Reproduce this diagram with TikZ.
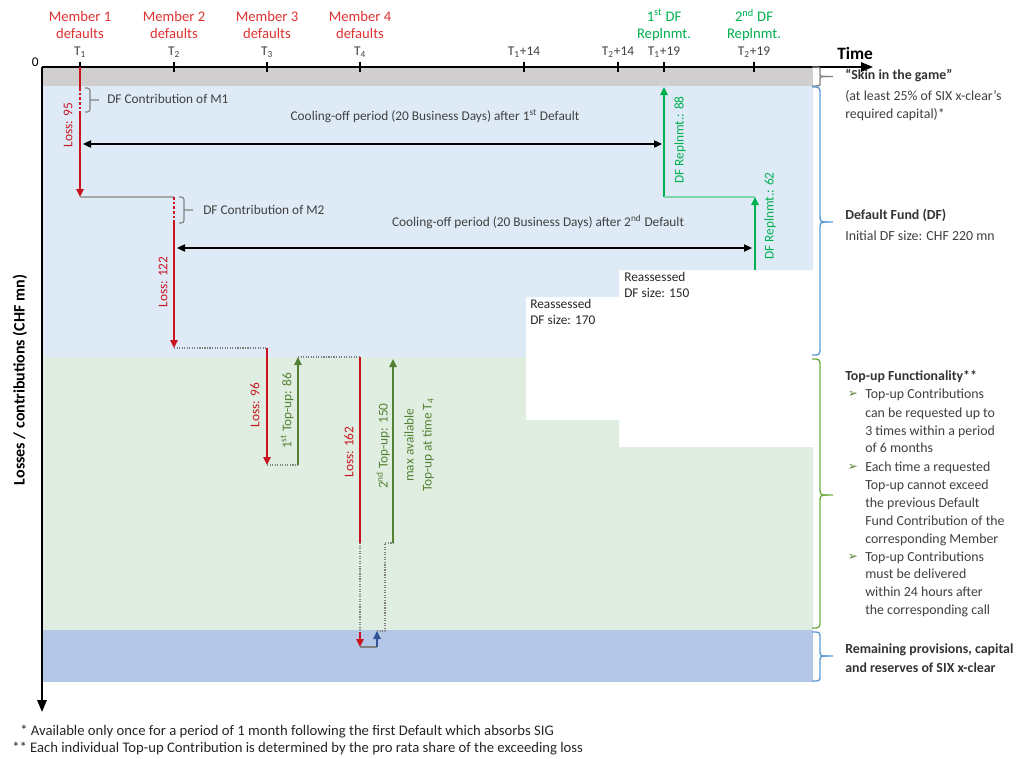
\documentclass[tikz,border=0pt]{standalone}
\usepackage{fontspec}
\setmainfont{Carlito}
\newfontfamily\symfont{DejaVu Sans}
\usetikzlibrary{arrows.meta}
\definecolor{lossred}{RGB}{200,20,30}
\definecolor{headred}{RGB}{222,50,50}
\definecolor{repgreen}{RGB}{0,176,80}
\definecolor{topgreen}{RGB}{84,130,53}
\definecolor{txtgray}{RGB}{64,64,64}
\definecolor{skinfill}{RGB}{208,206,206}
\definecolor{dffill}{RGB}{222,235,247}
\definecolor{tufill}{RGB}{224,238,226}
\definecolor{resfill}{RGB}{180,199,231}
\definecolor{bracegreen}{RGB}{112,173,71}
\definecolor{braceblue}{RGB}{91,155,213}
\definecolor{arrowblue}{RGB}{47,85,151}
\begin{document}
\begin{tikzpicture}[x=0.75pt, y=-0.75pt,
	txt/.style={font=\fontsize{10}{12}\selectfont, text=txtgray, inner sep=0pt},
	sidetxt/.style={font=\fontsize{10.4}{12}\selectfont, text=txtgray, inner sep=0pt},
	boldtxt/.style={font=\fontsize{10.4}{12}\selectfont\bfseries, text=black!80, inner sep=0pt},
	headtxt/.style={font=\fontsize{11}{12.75}\selectfont, align=center, inner sep=0pt},
	vtxt/.style={font=\fontsize{10}{13.5}\selectfont, rotate=90, inner sep=0pt},
	tip/.style={-{Triangle[length=6pt,width=5.5pt]}},
	loss/.style={lossred, line width=1.6pt},
	repl/.style={repgreen, line width=1.6pt},
	topup/.style={topgreen, line width=1.6pt},
	link/.style={gray, densely dotted, line width=0.9pt},
	cool/.style={black, line width=0.9pt, {Triangle[length=6pt,width=5.5pt]}-{Triangle[length=6pt,width=5.5pt]}}]
	\useasboundingbox (0,0) rectangle (1034,758);
	\fill[skinfill] (42,67) rectangle (813,86);
	\fill[dffill] (42,86) -- (813,86) -- (813,270) -- (619,270) -- (619,297) -- (526,297) -- (526,357) -- (42,357) -- cycle;
	\fill[tufill] (42,357) -- (526,357) -- (526,420) -- (619,420) -- (619,447) -- (813,447) -- (813,630) -- (42,630) -- cycle;
	\fill[resfill] (42,630) rectangle (813,682);
	\coordinate (O) at (42,67);
	\coordinate (tend) at (873,67);
	\coordinate (lend) at (42,712);
	\draw[line width=1.5pt, -{Triangle[length=9pt,width=7pt]}] (O) -- (tend);
	\draw[line width=1.5pt, -{Triangle[length=9pt,width=7pt]}] (O) -- (lend);
	\node[txt, text=black, anchor=east] (zero) at (39,62) {0};
	\node[font=\fontsize{13}{14}\selectfont\bfseries, anchor=west, inner sep=0pt] (time) at (837,53) {Time};
	\node[font=\fontsize{12}{14}\selectfont\bfseries, rotate=90, inner sep=0pt] (ylab) at (20,380) {Losses / contributions (CHF mn)};
	\foreach \n/\x/\t in {t1/80/T\textsubscript{1}, t2/174/T\textsubscript{2}, t3/267/T\textsubscript{3}, t4/360/T\textsubscript{4}, t5/524/T\textsubscript{1}+14, t6/618/T\textsubscript{2}+14, t7/664/T\textsubscript{1}+19, t8/754/T\textsubscript{2}+19}
	{
		\draw[line width=1.5pt] (\x,62) -- (\x,72);
		\node[txt] (\n) at (\x,52) {\t};
	}
	\foreach \i/\x in {1/80,2/174,3/267,4/360}
	\node[headtxt, text=headred] (m\i) at (\x,25) {Member \i\\defaults};
	\node[headtxt, text=repgreen] (r1) at (664,25) {1\textsuperscript{st} DF\\Replnmt.};
	\node[headtxt, text=repgreen] (r2) at (754,25) {2\textsuperscript{nd} DF\\Replnmt.};
	\coordinate (a0) at (80,67);
	\coordinate (a1) at (80,88);
	\coordinate (a2) at (80,112);
	\coordinate (a3) at (80,197);
	\coordinate (b0) at (174,197);
	\coordinate (b1) at (174,223);
	\coordinate (b2) at (174,348);
	\coordinate (c0) at (267,348);
	\coordinate (c1) at (267,465);
	\coordinate (d0) at (298,465);
	\coordinate (d1) at (298,357);
	\coordinate (e0) at (360,357);
	\coordinate (e1) at (360,543);
	\coordinate (e2) at (360,632);
	\coordinate (e3) at (360,647);
	\coordinate (f0) at (377,647);
	\coordinate (f1) at (377,631);
	\coordinate (g0) at (385,631);
	\coordinate (g1) at (385,543);
	\coordinate (g2) at (393,543);
	\coordinate (g3) at (393,359);
	\draw[loss] (a0) -- (a1);
	\draw[loss, dash pattern=on 2pt off 1.5pt] (a1) -- (a2);
	\draw[loss, tip] (a2) -- (a3);
	\draw[gray!70, line width=1pt] (a3) -- (b0);
	\draw[loss, dash pattern=on 2pt off 1.5pt] (b0) -- (b1);
	\draw[loss, tip] (b1) -- (b2);
	\draw[link] (b2) -- (c0);
	\draw[loss, tip] (c0) -- (c1);
	\draw[link] (c1) -- (d0);
	\draw[topup, tip] (d0) -- (d1);
	\draw[link] (d1) -- (e0);
	\draw[loss] (e0) -- (e1);
	\draw[link] (e1) -- (e2);
	\draw[loss, tip] (e2) -- (e3);
	\draw[gray, line width=1pt] (e3) -- (f0);
	\draw[arrowblue, line width=1.6pt, tip] (f0) -- (f1);
	\draw[link] (f1) -- (g0) -- (g1) -- (g2);
	\draw[topup, tip] (g2) -- (g3);
	\coordinate (h0) at (664,197);
	\coordinate (h1) at (664,87);
	\coordinate (k0) at (755,270);
	\coordinate (k1) at (755,197);
	\draw[repl, tip] (h0) -- (h1);
	\draw[repgreen!50, line width=1pt] (h0) -- (k1);
	\draw[repl, tip] (k0) -- (k1);
	\coordinate (cool1a) at (83,144);
	\coordinate (cool1b) at (662,144);
	\coordinate (cool2a) at (177,248);
	\coordinate (cool2b) at (752,248);
	\draw[cool] (cool1a) -- (cool1b);
	\draw[cool] (cool2a) -- (cool2b);
	\node[txt] (cool1) at (435,116) {Cooling-off period (20 Business Days) after 1\textsuperscript{st} Default};
	\node[txt] (cool2) at (538,222) {Cooling-off period (20 Business Days) after 2\textsuperscript{nd} Default};
	\draw[gray, line width=0.8pt, rounded corners=2pt] (85,88) -- (90,88) -- (90,112) -- (85,112) (90,100) -- (99,100);
	\node[txt, anchor=west] (dfm1) at (107,99) {DF Contribution of M1};
	\draw[gray, line width=0.8pt, rounded corners=2pt] (179,197) -- (184,197) -- (184,223) -- (179,223) (184,210) -- (193,210);
	\node[txt, anchor=west] (dfm2) at (203,210) {DF Contribution of M2};
	\node[vtxt, text=lossred] (l95) at (68,125) {Loss: 95};
	\node[vtxt, text=lossred] (l122) at (163,282) {Loss: 122};
	\node[vtxt, text=lossred] (l96) at (255,405) {Loss: 96};
	\node[vtxt, text=topgreen] (tu86) at (287,411) {1\textsuperscript{st} Top-up: 86};
	\node[vtxt, text=lossred] (l162) at (349,452) {Loss: 162};
	\node[vtxt, text=topgreen] (tu150) at (383,446) {2\textsuperscript{nd} Top-up: 150};
	\node[vtxt, text=topgreen, align=center] (maxtu) at (419,445) {max available\\Top-up at time T\textsubscript{4}};
	\node[vtxt, text=repgreen] (rp88) at (680,140) {DF Replnmt.: 88};
	\node[vtxt, text=repgreen] (rp62) at (770,216) {DF Replnmt.: 62};
	\node[txt, text=black!85, anchor=north west, align=left] (re170) at (530,299) {Reassessed\\DF size: 170};
	\node[txt, text=black!85, anchor=north west, align=left] (re150) at (624,272) {Reassessed\\DF size: 150};
	\foreach \c/\t/\m/\b/\r in {gray/67/76.5/86/3, braceblue/87/222/355/8, bracegreen/359/495/628/8, braceblue/632/656/681/6}
	{
		\draw[\c, line width=1pt] (812,\t) .. controls (820,\t) .. (820,\t+\r) -- (820,\m-\r) .. controls (820,\m) .. (828,\m) -- (833,\m);
		\draw[\c, line width=1pt] (812,\b) .. controls (820,\b) .. (820,\b-\r) -- (820,\m+\r) .. controls (820,\m) .. (828,\m);
	}
	\node[boldtxt, anchor=base west] (skin) at (845,79) {“Skin in the game”};
	\node[sidetxt, anchor=base west] (skin1) at (845,100) {(at least 25\% of SIX x-clear’s};
	\node[sidetxt, anchor=base west] (skin2) at (845,118) {required capital)*};
	\node[boldtxt, anchor=base west] (df) at (845,219) {Default Fund (DF)};
	\node[sidetxt, anchor=base west] (df1) at (845,240) {Initial DF size: CHF 220 mn};
	\node[boldtxt, anchor=base west] (tu) at (845,380) {Top-up Functionality**};
	\foreach \y/\t [count=\i] in {394/Top-up Contributions, 413/can be requested up to, 431/3 times within a period, 448/of 6 months, 467/Each time a requested, 485/Top-up cannot exceed, 503/the previous Default, 521/Fund Contribution of the, 539/corresponding Member, 557/Top-up Contributions, 574/must be delivered, 592/within 24 hours after, 610/the corresponding call}
	\node[sidetxt, anchor=base west] (tu\i) at (865,\y+4) {\t};
	\foreach \y [count=\i] in {394,467,557}
	\node[font=\symfont\fontsize{9}{10}\selectfont, text=topgreen, inner sep=0pt] (bul\i) at (853,\y) {➢};
	\node[boldtxt, anchor=base west] (res1) at (845,653) {Remaining provisions, capital};
	\node[boldtxt, anchor=base west] (res2) at (845,672) {and reserves of SIX x-clear};
	\node[txt, font=\fontsize{11}{12}\selectfont, text=black!85, anchor=base west] (fn1) at (20,735) {* Available only once for a period of 1 month following the first Default which absorbs SIG};
	\node[txt, font=\fontsize{11}{12}\selectfont, text=black!85, anchor=base west] (fn2) at (12,752) {** Each individual Top-up Contribution is determined by the pro rata share of the exceeding loss};
\end{tikzpicture}
\end{document}
